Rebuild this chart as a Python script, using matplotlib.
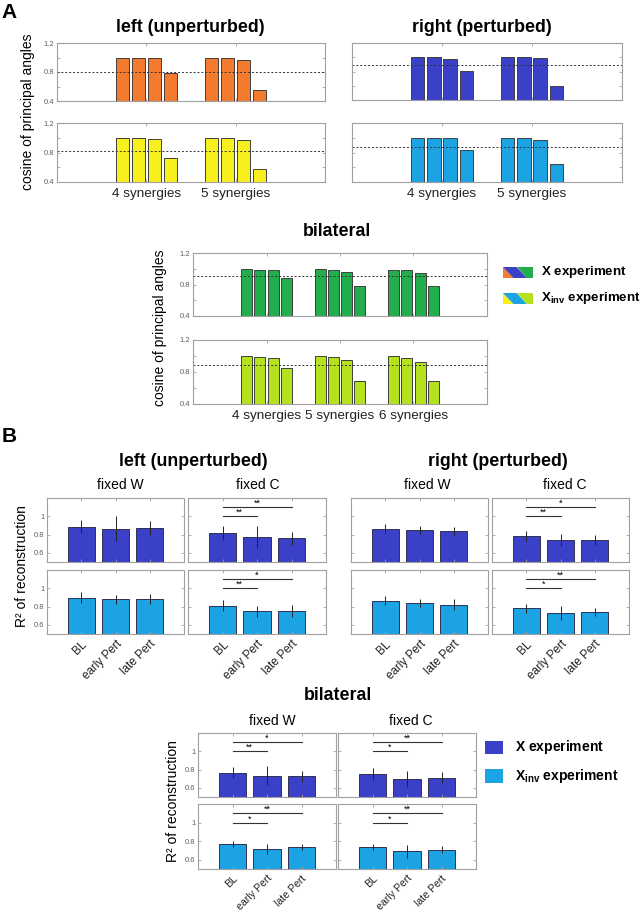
import numpy as np
import matplotlib
matplotlib.use('Agg')
import matplotlib.pyplot as plt
from matplotlib.patches import Polygon, Rectangle

plt.rcParams['font.family'] = ['Liberation Sans', 'DejaVu Sans']
plt.rcParams['mathtext.fontset'] = 'custom'
plt.rcParams['mathtext.rm'] = 'Liberation Sans'
plt.rcParams['mathtext.bf'] = 'Liberation Sans:bold'

# ---------------- data: panel A (cosine of principal angles) ----------------
syn_labels_lr = ['4 synergies', '5 synergies']
syn_labels_bi = ['4 synergies', '5 synergies', '6 synergies']

left_x = [[1.00, 1.00, 0.99, 0.79], [1.00, 1.00, 0.97, 0.55]]
left_xinv = [[1.00, 1.00, 0.98, 0.73], [1.00, 0.99, 0.97, 0.57]]
right_x = [[1.00, 1.00, 0.98, 0.81], [1.00, 1.00, 0.985, 0.59]]
right_xinv = [[1.00, 1.00, 0.99, 0.84], [1.00, 1.00, 0.97, 0.65]]
bi_x = [[1.00, 0.99, 0.98, 0.88], [1.00, 0.99, 0.96, 0.78], [0.99, 0.98, 0.94, 0.785]]
bi_xinv = [[1.00, 0.99, 0.97, 0.85], [1.00, 0.99, 0.95, 0.69], [1.00, 0.975, 0.925, 0.69]]
thr_left = [0.80, 0.825]
thr_right = [0.885, 0.875]
thr_bi = [0.91, 0.885]

# ---------------- data: panel B (R2 of reconstruction) ----------------
conditions = ['BL', 'early Pert', 'late Pert']

left_W_x, left_W_x_err = [0.885, 0.865, 0.873], [0.07, 0.14, 0.08]
left_C_x, left_C_x_err = [0.818, 0.778, 0.76], [0.08, 0.12, 0.07]
left_W_inv, left_W_inv_err = [0.898, 0.88, 0.88], [0.058, 0.05, 0.055]
left_C_inv, left_C_inv_err = [0.807, 0.75, 0.75], [0.06, 0.06, 0.066]
right_W_x, right_W_x_err = [0.865, 0.847, 0.836], [0.05, 0.045, 0.044]
right_C_x, right_C_x_err = [0.789, 0.738, 0.742], [0.055, 0.063, 0.053]
right_W_inv, right_W_inv_err = [0.862, 0.836, 0.818], [0.05, 0.045, 0.06]
right_C_inv, right_C_inv_err = [0.782, 0.731, 0.742], [0.05, 0.076, 0.045]
bi_W_x, bi_W_x_err = [0.767, 0.735, 0.727], [0.064, 0.107, 0.062]
bi_C_x, bi_C_x_err = [0.749, 0.698, 0.713], [0.064, 0.09, 0.055]
bi_W_inv, bi_W_inv_err = [0.767, 0.713, 0.735], [0.033, 0.055, 0.033]
bi_C_inv, bi_C_inv_err = [0.738, 0.69, 0.709], [0.033, 0.067, 0.036]

# significance marks: (BL vs early, BL vs late)
left_C_x_sig = ['**', '**']
left_C_inv_sig = ['**', '*']
right_C_x_sig = ['**', '*']
right_C_inv_sig = ['*', '**']
bi_W_x_sig = ['**', '*']
bi_C_x_sig = ['*', '**']
bi_W_inv_sig = ['*', '**']
bi_C_inv_sig = ['*', '**']

# colours
c_orange = '#F47A2E'
c_yellow = '#F8F01E'
c_blue = '#3B40C8'
c_lblue = '#1BA3E3'
c_green = '#22AE4C'
c_lgreen = '#B4E31E'

W, H = 644, 914
fig = plt.figure(figsize=(W / 100, H / 100), dpi=100)


def px_axes(l, t, r, b):
    return fig.add_axes([l / W, 1 - b / H, (r - l) / W, (b - t) / H])


def ftext(x, y, s, **kw):
    fig.text(x / W, 1 - y / H, s, ha='center', va='center', **kw)


def style(ax):
    for sp in ax.spines.values():
        sp.set_color('#a0a0a0')
        sp.set_linewidth(0.8)
    ax.tick_params(direction='in', length=2, width=0.6, color='#a0a0a0',
                   labelsize=5.5, labelcolor='#606060', top=True, right=True, pad=2)


def cos_panel(ax, groups, color, thr, labels, show_y, xlabels):
    n = len(groups)
    step, width = 0.18, 0.15
    for g, vals in enumerate(groups):
        offs = (np.arange(len(vals)) - (len(vals) - 1) / 2) * step
        ax.bar(g + 1 + offs, vals, width, color=color, edgecolor='#404040', linewidth=0.7)
    ax.axhline(thr, color='#333333', lw=0.7, ls=(0, (2, 2)))
    ax.set_xlim(0, n + 1)
    ax.set_ylim(0.4, 1.2)
    ax.set_yticks([0.4, 0.6, 0.8, 1.0, 1.2])
    style(ax)
    if show_y:
        ax.set_yticklabels(['0.4', '', '0.8', '', '1.2'])
    else:
        ax.set_yticklabels([])
    ax.set_xticks(np.arange(1, n + 1))
    if xlabels:
        ax.set_xticklabels(labels)
        ax.tick_params(axis='x', labelcolor='#222222', labelsize=9.7, pad=4)
    else:
        ax.set_xticklabels([])


def r2_panel(ax, vals, errs, color, sig, show_y, xlabels, xfs=8.5):
    x = np.arange(1, len(vals) + 1)
    ax.bar(x, vals, 0.8, color=color, edgecolor='#303050', linewidth=0.7)
    ax.errorbar(x, vals, yerr=errs, fmt='none', ecolor='#222222', elinewidth=0.7, capsize=0)
    if sig:
        for (xe, ys), s in zip([(2, 1.0), (3, 1.1)], sig):
            ax.plot([1, xe], [ys, ys], color='#333333', lw=0.8)
            ax.text((1 + xe) / 2, ys - 0.01, s, ha='center', va='bottom', fontsize=6.5)
    ax.set_xlim(0, 4)
    ax.set_ylim(0.5, 1.2)
    ax.set_yticks([0.6, 0.8, 1.0])
    style(ax)
    if show_y:
        ax.set_yticklabels(['0.6', '0.8', '1'])
    else:
        ax.set_yticklabels([])
    ax.set_xticks(x)
    if xlabels:
        ax.set_xticklabels(conditions, rotation=45, ha='right', rotation_mode='anchor')
        ax.tick_params(axis='x', labelcolor='#222222', labelsize=xfs, pad=3)
    else:
        ax.set_xticklabels([])


# ---------------- panel A ----------------
ftext(9, 12, 'A', fontsize=15, fontweight='bold')
ftext(190, 27, 'left (unperturbed)', fontsize=12.8, fontweight='bold')
ftext(482, 27, 'right (perturbed)', fontsize=12.8, fontweight='bold')
ftext(337, 232, 'bilateral', fontsize=12.8, fontweight='bold')

cos_panel(px_axes(57, 43, 325, 101), left_x, c_orange, thr_left[0], syn_labels_lr, True, False)
cos_panel(px_axes(57, 123, 325, 182), left_xinv, c_yellow, thr_left[1], syn_labels_lr, True, True)
cos_panel(px_axes(352, 43, 622, 100), right_x, c_blue, thr_right[0], syn_labels_lr, False, False)
cos_panel(px_axes(352, 123, 622, 182), right_xinv, c_lblue, thr_right[1], syn_labels_lr, False, True)
cos_panel(px_axes(193, 253, 487, 316), bi_x, c_green, thr_bi[0], syn_labels_bi, True, False)
cos_panel(px_axes(193, 340, 487, 404), bi_xinv, c_lgreen, thr_bi[1], syn_labels_bi, True, True)

ftext(28, 112, 'cosine of principal angles', fontsize=10, rotation=90)
ftext(160, 328, 'cosine of principal angles', fontsize=10, rotation=90)

# striped legend patches for panel A
for (top, bot), cols, lab in [((267, 278), (c_orange, c_blue, c_green), r'$\mathbf{X}$ experiment'),
                              ((293, 304), (c_yellow, c_lblue, c_lgreen), r'$\mathbf{X_{inv}}$ experiment')]:
    lax = px_axes(503, top, 533, bot)
    lax.set_xlim(0, 1)
    lax.set_ylim(0, 1)
    lax.axis('off')
    lax.add_patch(Polygon([(0, 1), (0.35, 0), (0, 0)], color=cols[0], lw=0))
    lax.add_patch(Polygon([(0, 1), (0.45, 1), (0.8, 0), (0.35, 0)], color=cols[1], lw=0))
    lax.add_patch(Polygon([(0.45, 1), (1, 1), (1, 0), (0.8, 0)], color=cols[2], lw=0))
    fig.text(541 / W, 1 - (top + bot) / 2 / H, lab, ha='left', va='center',
             fontsize=9.6, fontweight='bold')

# ---------------- panel B ----------------
ftext(9, 436, 'B', fontsize=15, fontweight='bold')
ftext(193, 462, 'left (unperturbed)', fontsize=12.8, fontweight='bold')
ftext(498, 462, 'right (perturbed)', fontsize=12.8, fontweight='bold')
ftext(338, 695, 'bilateral', fontsize=12.8, fontweight='bold')

for x, s in [(120, 'fixed W'), (258, 'fixed C'), (427, 'fixed W'), (565, 'fixed C')]:
    ftext(x, 485, s, fontsize=10)
for x, s in [(272, 'fixed W'), (411, 'fixed C')]:
    ftext(x, 721, s, fontsize=10)

r2_panel(px_axes(47, 498, 184, 562), left_W_x, left_W_x_err, c_blue, None, True, False)
r2_panel(px_axes(188, 498, 326, 562), left_C_x, left_C_x_err, c_blue, left_C_x_sig, False, False)
r2_panel(px_axes(47, 570, 184, 634), left_W_inv, left_W_inv_err, c_lblue, None, True, True)
r2_panel(px_axes(188, 570, 326, 634), left_C_inv, left_C_inv_err, c_lblue, left_C_inv_sig, False, True)

r2_panel(px_axes(351, 498, 488, 562), right_W_x, right_W_x_err, c_blue, None, False, False)
r2_panel(px_axes(492, 498, 629, 562), right_C_x, right_C_x_err, c_blue, right_C_x_sig, False, False)
r2_panel(px_axes(351, 570, 488, 634), right_W_inv, right_W_inv_err, c_lblue, None, False, True)
r2_panel(px_axes(492, 570, 629, 634), right_C_inv, right_C_inv_err, c_lblue, right_C_inv_sig, False, True)

r2_panel(px_axes(198, 733, 336, 797), bi_W_x, bi_W_x_err, c_blue, bi_W_x_sig, True, False)
r2_panel(px_axes(338, 733, 476, 797), bi_C_x, bi_C_x_err, c_blue, bi_C_x_sig, False, False)
r2_panel(px_axes(198, 804, 336, 869), bi_W_inv, bi_W_inv_err, c_lblue, bi_W_inv_sig, True, True, xfs=7.6)
r2_panel(px_axes(338, 804, 476, 869), bi_C_inv, bi_C_inv_err, c_lblue, bi_C_inv_sig, False, True, xfs=7.6)

ftext(22, 566, 'R² of reconstruction', fontsize=10, rotation=90)
ftext(173, 801, 'R² of reconstruction', fontsize=10, rotation=90)

# solid legend for panel B
for (top, bot), col, lab in [((741, 754), c_blue, r'$\mathbf{X}$ experiment'),
                             ((769, 783), c_lblue, r'$\mathbf{X_{inv}}$ experiment')]:
    fig.patches.append(Rectangle((485 / W, 1 - bot / H), 18 / W, (bot - top) / H,
                                 transform=fig.transFigure, color=col, lw=0))
    fig.text(515 / W, 1 - (top + bot) / 2 / H, lab, ha='left', va='center',
             fontsize=10, fontweight='bold')

fig.savefig('out.png', dpi=100)
